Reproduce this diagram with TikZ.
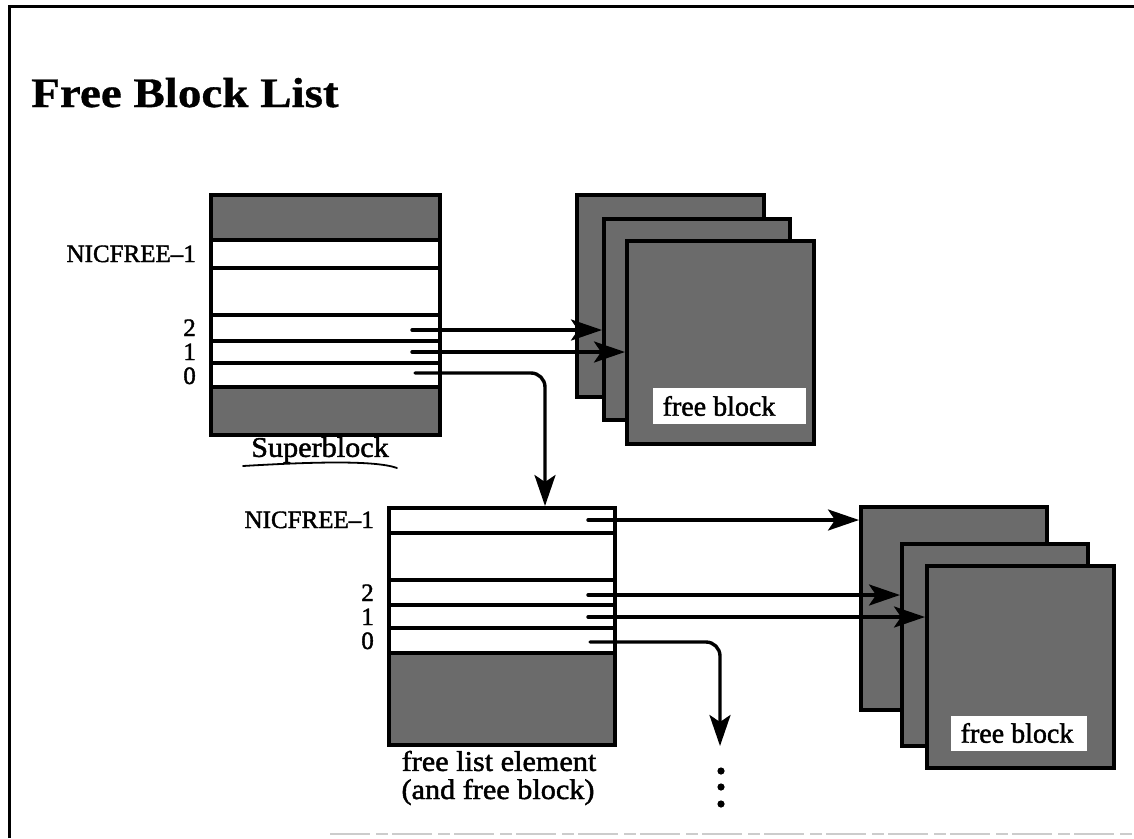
\documentclass[tikz,border=0pt]{standalone}
\usepackage{fontspec}
\setmainfont{Liberation Serif}
\newfontfamily\widefont{Liberation Serif}[FakeStretch=1.06, FakeBold=1.6]
\newfontfamily\titlefont{Liberation Serif}[FakeStretch=1.12, FakeBold=0.8]
\newfontfamily\inkfont{Liberation Serif}[FakeBold=1.6]
\usetikzlibrary{arrows.meta}
\begin{document}
\begin{tikzpicture}[x=1pt,y=-1pt,
  box/.style={draw, line width=4pt, inner sep=0pt, anchor=north west},
  blk/.style={box, fill=black!58},
  shadeband/.style={fill=black!58},
  rowline/.style={line width=3.5pt},
  ptr/.style={line width=3.4pt, line cap=round, rounded corners=14pt,
    -{Stealth[length=31pt,width=21pt,inset=7pt]}},
  lbl/.style={font=\inkfont\fontsize{25}{27}\selectfont, anchor=base east, inner sep=0pt},
  caption/.style={font=\widefont\fontsize{28.5}{30}\selectfont, inner sep=0pt},
  fbtext/.style={font=\inkfont\fontsize{28}{29}\selectfont, inner sep=0pt},
]
\useasboundingbox (0,0) rectangle (1134,838);
% frame
\draw[line width=3pt] (9,838) -- (9,6) -- (1134,6);
\draw[gray!40, line width=1.2pt, dash pattern=on 40pt off 6pt on 12pt off 4pt] (330,834) -- (1134,834);

% title
\node[anchor=base west, inner sep=0pt, font=\titlefont\bfseries\fontsize{42}{46}\selectfont] (title) at (31,107) {Free Block List};

% ---------- Superblock ----------
\fill[shadeband] (209,193) rectangle (438,240);
\fill[shadeband] (209,387) rectangle (438,433);
\foreach \yy in {240,268,315,341,363,387} \draw[rowline] (209,\yy) -- (438,\yy);
\node[box, minimum width=229pt, minimum height=240pt] (sb) at (209,193) {};
\node[lbl] (sbn) at (196,262) {NICFREE–1};
\node[lbl] (sb2) at (196,336) {2};
\node[lbl] (sb1) at (196,360) {1};
\node[lbl] (sb0) at (196,384) {0};
\node[caption] (sbcap) at (320,450) {Superblock};
\draw[line width=1.8pt, line cap=round] (243,466) .. controls (310,462) and (375,460) .. (397,468);

% upper free blocks
\node[blk, minimum width=187pt, minimum height=202pt] (ua) at (575,193) {};
\node[blk, minimum width=186pt, minimum height=201pt] (ub) at (602,217) {};
\node[blk, minimum width=187pt, minimum height=203pt] (uc) at (625,239) {};
\fill[white] (653,388) rectangle (806,424);
\node[fbtext] (ufb) at (719,406) {free block};

% ---------- free list element ----------
\fill[shadeband] (387,653) rectangle (613,743);
\foreach \yy in {533,580,605,628,653} \draw[rowline] (387,\yy) -- (613,\yy);
\node[box, minimum width=226pt, minimum height=237pt] (fl) at (387,506) {};
\node[lbl] (fln) at (374,528) {NICFREE–1};
\node[lbl] (fl2) at (374,601) {2};
\node[lbl] (fl1) at (374,625) {1};
\node[lbl] (fl0) at (374,649) {0};
\node[caption] (flcap1) at (499,761) {free list element};
\node[caption] (flcap2) at (498,792) {(and free block)};

% lower free blocks
\node[blk, minimum width=186pt, minimum height=203pt] (la) at (859,505) {};
\node[blk, minimum width=186pt, minimum height=202pt] (lb) at (900,542) {};
\node[blk, minimum width=187pt, minimum height=202pt] (lc) at (925,564) {};
\fill[white] (951,716) rectangle (1087,751);
\node[fbtext] (lfb) at (1017,733) {free block};

% ---------- pointers ----------
\coordinate (s2) at (412,330);
\coordinate (s1) at (412,352);
\coordinate (s0) at (415,373);
\coordinate (s0c) at (545,373);
\draw[ptr] (s2) -- (s2 -| ub.west);
\draw[ptr] (s1) -- (s1 -| uc.west);
\draw[ptr] (s0) -- (s0c) -- (s0c |- fl.north);

\coordinate (fn) at (588,520);
\coordinate (f2) at (588,595);
\coordinate (f1) at (588,617);
\coordinate (f0) at (590,642);
\coordinate (f0c) at (720,642);
\coordinate (more) at (720,746);
\draw[ptr] (fn) -- (fn -| la.west);
\draw[ptr] (f2) -- (f2 -| lb.west);
\draw[ptr] (f1) -- (f1 -| lc.west);
\draw[ptr] (f0) -- (f0c) -- (more);

\foreach \yy in {771,787,804} \fill (721,\yy) circle (3.6pt);
\end{tikzpicture}
\end{document}
